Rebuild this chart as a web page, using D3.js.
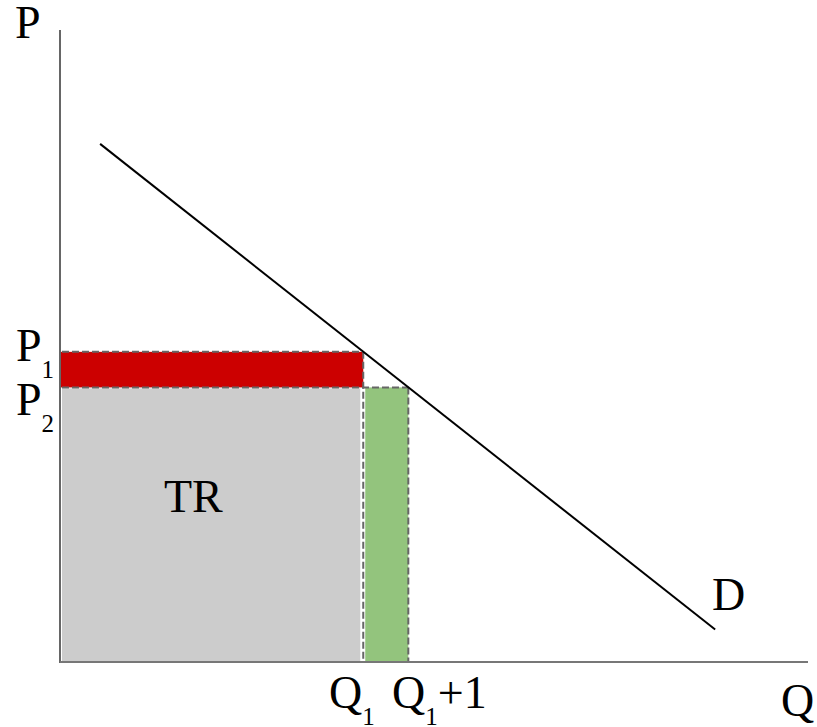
<!DOCTYPE html>
<html>
<head>
<meta charset="utf-8">
<script src="https://cdn.jsdelivr.net/npm/d3@7"></script>
<style>
  body { margin: 0; background: #fff; }
  text { font-family: "Liberation Serif", "DejaVu Serif", serif; fill: #000; }
</style>
</head>
<body>
<svg id="vis"></svg>
<script>
// datos del gráfico (unidades abstractas)
const demandQ = [0.89, 14.54];
const demandP = [11.51, 0.72];
const Q1 = 6.73;
const Q1plus = 7.73;
const P1 = 6.89;
const P2 = 6.10;
const axisLabels = ["P", "Q"];
const curveLabel = "D";
const areaLabel = "TR";

const WIDTH = 817;
const HEIGHT = 727;

const svg = d3.select("#vis")
    .attr("width", WIDTH)
    .attr("height", HEIGHT);

// escalas
const x = d3.scaleLinear().domain([0, 16.6]).range([60, 808]);
const y = d3.scaleLinear().domain([0, 14.04]).range([662, 30]);

// áreas
svg.append("rect")
    .attr("x", x(0) + 2)
    .attr("y", y(P2) + 1)
    .attr("width", x(Q1) - x(0) - 5)
    .attr("height", y(0) - y(P2) - 2)
    .attr("fill", "#cccccc");

svg.append("rect")
    .attr("x", x(0) + 1)
    .attr("y", y(P1))
    .attr("width", x(Q1) - x(0) - 1)
    .attr("height", y(P2) - y(P1))
    .attr("fill", "#cc0000");

svg.append("rect")
    .attr("x", x(Q1) + 2)
    .attr("y", y(P2))
    .attr("width", x(Q1plus) - x(Q1) - 2)
    .attr("height", y(0) - y(P2))
    .attr("fill", "#93c47d");

// líneas punteadas
const dashed = [
    [[0, P1], [Q1, P1]],
    [[0, P2], [Q1plus, P2]],
    [[Q1, P1], [Q1, 0]],
    [[Q1plus, P2], [Q1plus, 0]]
];
svg.append("g").selectAll("line")
    .data(dashed)
    .join("line")
    .attr("x1", d => x(d[0][0]) + (d[0][0] === 0 ? 2 : 0))
    .attr("y1", d => y(d[0][1]))
    .attr("x2", d => x(d[1][0]))
    .attr("y2", d => y(d[1][1]))
    .attr("stroke", "#666")
    .attr("stroke-width", 2)
    .attr("stroke-dasharray", "7,3");

// ejes
svg.append("line")
    .attr("x1", x(0)).attr("y1", y(14.04))
    .attr("x2", x(0)).attr("y2", y(0) + 1)
    .attr("stroke", "#666").attr("stroke-width", 2);
svg.append("line")
    .attr("x1", x(0)).attr("y1", y(0))
    .attr("x2", x(16.6)).attr("y2", y(0))
    .attr("stroke", "#777").attr("stroke-width", 2);

// curva de demanda
svg.append("path")
    .datum(demandQ.map((q, i) => [q, demandP[i]]))
    .attr("d", d3.line().x(d => x(d[0])).y(d => y(d[1])))
    .attr("fill", "none")
    .attr("stroke", "#000")
    .attr("stroke-width", 2);

// etiquetas
const big = 46, small = 25;

svg.append("text").attr("x", 15).attr("y", 38).attr("font-size", big).text(axisLabels[0]);
svg.append("text").attr("x", 781).attr("y", 716).attr("font-size", big).text(axisLabels[1]);
svg.append("text").attr("x", 712).attr("y", 610).attr("font-size", big).text(curveLabel);
svg.append("text").attr("x", 164).attr("y", 512).attr("font-size", big).text(areaLabel);

function subLabel(px, py, main, sub, tail) {
    const t = svg.append("text").attr("x", px).attr("y", py).attr("font-size", big);
    t.append("tspan").text(main);
    t.append("tspan").attr("font-size", small).attr("dy", 17).text(sub);
    if (tail) t.append("tspan").attr("dy", -17).text(tail);
}

subLabel(16, y(P1) + 9, "P", "1");
subLabel(16, y(P2) + 28, "P", "2");
subLabel(329, 708, "Q", "1");
subLabel(392, 708, "Q", "1", "+1");
</script>
</body>
</html>
